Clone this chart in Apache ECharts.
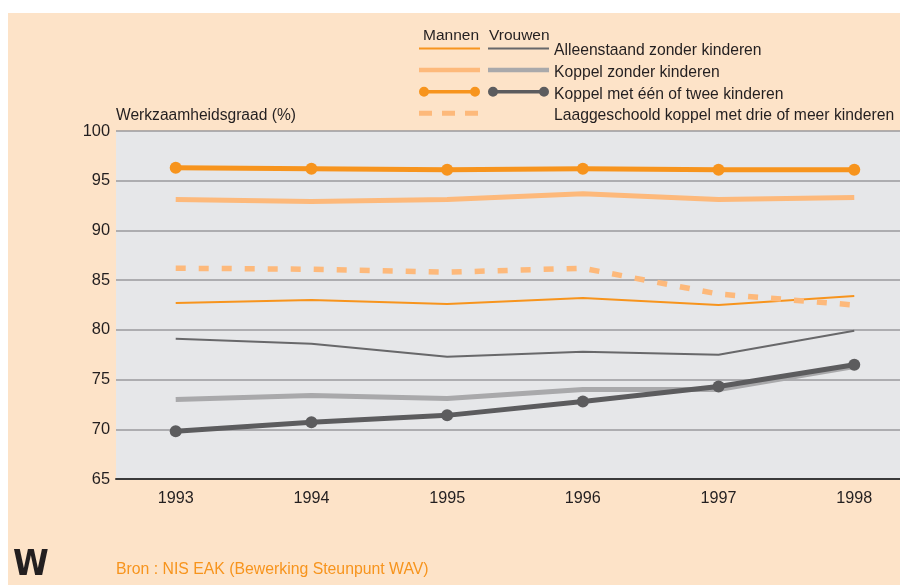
<!DOCTYPE html>
<html>
<head>
<meta charset="utf-8">
<script src="https://cdn.jsdelivr.net/npm/echarts@6/dist/echarts.min.js"></script>
<style>
  html, body { margin: 0; padding: 0; background: #ffffff; }
  #bg { position: absolute; left: 8px; top: 13px; width: 892px; height: 572px; background: #fde3c8; }
  #chart { position: absolute; left: 0; top: 0; width: 900px; height: 585px; }
</style>
</head>
<body>
<div id="bg"></div>
<div id="chart"></div>
<script>
// ---- data ----
const years = [1993, 1994, 1995, 1996, 1997, 1998];
const yTicks = [65, 70, 75, 80, 85, 90, 95, 100];
const categories = [
  'Alleenstaand zonder kinderen',
  'Koppel zonder kinderen',
  'Koppel met één of twee kinderen',
  'Laaggeschoold koppel met drie of meer kinderen'
];
const mannenAlleenstaand = [82.7, 83.0, 82.6, 83.2, 82.5, 83.4];
const mannenKoppelZonder = [93.1, 92.9, 93.1, 93.7, 93.1, 93.3];
const mannenKoppelMet = [96.3, 96.2, 96.1, 96.2, 96.1, 96.1];
const mannenLaaggeschoold = [86.2, 86.1, 85.8, 86.2, 83.6, 82.5];
const vrouwenAlleenstaand = [79.1, 78.6, 77.3, 77.8, 77.5, 79.9];
const vrouwenKoppelZonder = [73.0, 73.4, 73.1, 74.0, 74.0, 76.3];
const vrouwenKoppelMet = [69.8, 70.7, 71.4, 72.8, 74.3, 76.5];

const FONT = "'Liberation Sans', Arial, sans-serif";
const TEXT = '#231f20';
const ORANGE = '#f7941d';
const LIGHT_ORANGE = '#fdb97b';
const DARK_GRAY = '#5c5c5e';
const MID_GRAY = '#68686a';
const LIGHT_GRAY = '#a9a9ab';

const pairs = arr => years.map((y, i) => [y, arr[i]]);

// legend icon paths (61 x 17 box, drawn around y = 6; tiny corner dots keep the box size)
const corners = 'M0,0h0.01v0.01h-0.01z M61,17h-0.01v-0.01h0.01z ';
const iconThin = 'path://' + corners + 'M0,5h61v2h-61z';
const iconThick = 'path://' + corners + 'M0,3.75h61v4.5h-61z';
const circle = (cx, cy, r) => 'M' + (cx - r) + ',' + cy + 'a' + r + ',' + r + ' 0 1,1 ' + (2 * r) + ',0a' + r + ',' + r + ' 0 1,1 ' + (-2 * r) + ',0z ';
const iconMarker = 'path://' + corners + 'M9,4.2h43v3.6h-43z ' + circle(5, 6, 5) + circle(56, 6, 5);
const iconDash = 'path://' + corners + 'M0,3.5h13v5h-13z M23,3.5h13v5h-13z M46,3.5h13v5h-13z';
const iconNone = 'path://' + corners;

const mNames = categories.map(c => 'Mannen: ' + c);
mNames[3] = categories[3];
const vNames = categories.slice(0, 3);

function lineSeries(name, data, color, width, opts) {
  return Object.assign({
    name: name,
    type: 'line',
    data: pairs(data),
    color: color,
    symbol: 'none',
    showSymbol: false,
    lineStyle: { color: color, width: width, cap: 'butt', join: 'round' },
    itemStyle: { color: color },
    emphasis: { disabled: true },
    silent: true
  }, opts || {});
}

const series = [
  lineSeries(vNames[1], vrouwenKoppelZonder, LIGHT_GRAY, 5),
  lineSeries(vNames[0], vrouwenAlleenstaand, MID_GRAY, 2),
  lineSeries(vNames[2], vrouwenKoppelMet, DARK_GRAY, 5, { symbol: 'circle', showSymbol: true, symbolSize: 12 }),
  lineSeries(mNames[0], mannenAlleenstaand, ORANGE, 2),
  lineSeries(mNames[3], mannenLaaggeschoold, LIGHT_ORANGE, 5.5),
  lineSeries(mNames[1], mannenKoppelZonder, LIGHT_ORANGE, 5),
  lineSeries(mNames[2], mannenKoppelMet, ORANGE, 5, { symbol: 'circle', showSymbol: true, symbolSize: 12 })
];
series[4].lineStyle.type = [10, 13];

const legendText = { fontFamily: FONT, fontSize: 15.7, color: TEXT, lineHeight: 21.6 };

const option = {
  animation: false,
  backgroundColor: 'transparent',
  title: [
    { text: 'Mannen', left: 423, top: 28, padding: 0,
      textStyle: { fontFamily: FONT, fontSize: 15.5, fontWeight: 'normal', color: TEXT } },
    { text: 'Vrouwen', left: 489, top: 28, padding: 0,
      textStyle: { fontFamily: FONT, fontSize: 15.5, fontWeight: 'normal', color: TEXT } },
    { text: 'Bron : NIS EAK (Bewerking Steunpunt WAV)', left: 116, top: 562, padding: 0,
      textStyle: { fontFamily: FONT, fontSize: 15.8, fontWeight: 'normal', color: ORANGE } },
    { text: 'W', left: 13, top: 548, padding: 0,
      textStyle: { fontFamily: "'DejaVu Sans Condensed', sans-serif", fontSize: 36, fontWeight: 'bold', color: TEXT } }
  ],
  legend: [
    {
      orient: 'vertical', left: 419, top: 40.2, padding: 0, itemGap: 0,
      itemWidth: 61, itemHeight: 17,
      selectedMode: false,
      itemStyle: { borderWidth: 0 },
      textStyle: legendText,
      formatter: () => ' ',
      data: [
        { name: mNames[0], icon: iconThin },
        { name: mNames[1], icon: iconThick },
        { name: mNames[2], icon: iconMarker },
        { name: mNames[3], icon: iconDash }
      ]
    },
    {
      orient: 'vertical', left: 488, top: 40.2, padding: 0, itemGap: 0,
      itemWidth: 61, itemHeight: 17,
      selectedMode: false,
      itemStyle: { borderWidth: 0 },
      textStyle: legendText,
      data: [
        { name: vNames[0], icon: iconThin },
        { name: vNames[1], icon: iconThick },
        { name: vNames[2], icon: iconMarker },
        { name: mNames[3], icon: iconNone, itemStyle: { opacity: 0 } }
      ]
    }
  ],
  grid: {
    left: 116, right: 0, top: 131, bottom: 106,
    show: true, backgroundColor: '#e6e7e9', borderWidth: 0
  },
  xAxis: {
    type: 'value',
    min: 1992.56, max: 1998.337,
    axisLine: { show: true, lineStyle: { color: '#3a3a3a', width: 2 } },
    axisTick: { show: false },
    splitLine: { show: false },
    axisLabel: {
      customValues: years,
      formatter: v => String(v),
      margin: 12,
      fontFamily: FONT, fontSize: 16.2, color: TEXT
    }
  },
  yAxis: {
    type: 'value',
    min: yTicks[0], max: yTicks[yTicks.length - 1], interval: 5,
    name: 'Werkzaamheidsgraad (%)',
    nameLocation: 'end',
    nameGap: 15,
    nameTextStyle: { fontFamily: FONT, fontSize: 15.6, color: TEXT, align: 'left', verticalAlign: 'middle' },
    axisLine: { show: false },
    axisTick: { show: false },
    splitLine: { show: true, lineStyle: { color: '#9a9a9c', width: 1.5 } },
    axisLabel: { margin: 6, fontFamily: FONT, fontSize: 16.4, color: TEXT }
  },
  series: series
};

const chart = echarts.init(document.getElementById('chart'), null, { renderer: 'canvas' });
chart.setOption(option);
</script>
</body>
</html>
